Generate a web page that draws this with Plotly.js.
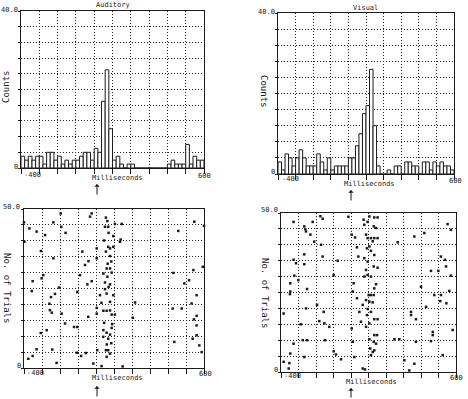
<!DOCTYPE html>
<html>
<head>
<meta charset="utf-8">
<script src="https://cdn.plot.ly/plotly-3.0.1.min.js"></script>
<style>html,body{margin:0;padding:0;background:#fff;}#chart{width:468px;height:399px;}</style>
</head>
<body>
<div id="chart"></div>
<script>
// ---------- DATA ----------
const binStartMs = -400;
const binWidthMs = 20;
// Auditory PSTH counts, 50 bins of 20 ms from -400 to 600 ms
const auditoryCounts = [3,2,3,2,3,3,1,4,4,2, 3,1,2,1,2,2,3,4,4,2, 5,4,17,25,10,2,3,1,0,1, 1,0,0,0,0,0,0,0,0,0, 1,2,1,1,1,6,1,3,2,2];
// Visual PSTH counts
const visualCounts = [3,1,5,4,2,4,6,4,2,2, 2,5,3,1,4,1,2,2,2,2, 4,4,7,10,15,17,26,12,2,0, 0,1,0,2,2,0,3,3,2,2, 0,3,3,1,3,2,3,2,2,1];

// Auditory raster: spike time (ms) and trial number
const audSpikeMs = [-24,-33,55,63,50,68,105,143,-196,-237,-400,-370,-330,-283,-169,-193,-398,96,133,137,4,68,78,96,-306,-76,55,78,4,-237,-61,-42,-89,59,78,-293,-302,-352,41,87,63,-48,-24,50,78,-357,-206,-228,-250,-104,22,59,96,78,-259,-256,-246,-191,4,4,41,59,78,87,105,-43,-172,-122,-104,-274,-307,41,59,78,87,68,-330,-243,-107,-83,7,55,68,59,78,-376,-352,-219,-15,31,148,-56,204,217,546,457,600,593,541,430,517,491,559,531,426,476,559,544,559,537,559,435,574,587,70,45,85,65,50,70,45,90,60,85,40,30];
const audTrial = [48.6,47.6,47.3,46.2,44.4,44.4,45.3,45.3,48.6,45.8,45.8,43.9,42.9,41.8,42.5,44.4,39.7,41.5,39.7,40.4,37.6,38.1,37.6,38.1,36.8,36.6,36.6,35.2,34.5,34.5,32.4,33.6,29.2,31.3,31.3,29.2,28.2,27.3,29.7,30.0,28.7,26.3,27.3,26.9,26.3,24.2,25.3,23.3,22.3,23.9,22.9,23.4,22.9,20.8,20.2,18.2,17.4,17.1,18.9,17.1,18.0,18.0,18.1,16.8,16.8,16.1,14.0,12.9,12.9,11.9,11.0,11.9,11.1,10.5,12.6,9.2,5.9,5.8,4.8,3.8,5.6,5.6,5.6,3.5,4.5,2.9,3.8,1.6,1.4,0.6,0.5,4.7,15.8,20.6,46.0,43.1,44.7,31.8,30.8,29.9,27.6,26.6,22.9,20.3,18.7,18.7,16.4,15.3,13.4,9.2,10.3,8.2,7.1,5.0,42.5,40.1,33.5,32.8,24.8,25.5,14.2,13.8,7.4,7.8,9.8,20.5];

// Visual raster
const visSpikeMs = [-328,-267,-261,-257,-232,-219,-175,-162,-210,-171,-267,-162,-328,-314,-267,-76,-324,-301,-347,-251,-347,-349,-99,-385,-257,-194,-156,-181,-286,-152,-124,-328,-276,-251,-149,-99,-86,-57,-267,-347,-352,-356,-385,-15,4,23,34,42,15,10,34,48,57,4,10,19,67,80,72,76,95,105,133,152,130,143,86,95,114,124,133,152,91,105,114,133,76,95,130,152,86,95,76,114,143,133,101,114,130,86,105,124,67,95,114,91,133,152,105,86,133,149,105,130,143,110,124,133,114,362,419,267,552,571,514,537,543,457,499,571,400,476,514,562,429,510,545,343,343,371,581,467,467,248,276,371,524,305,362,333,457];
const visTrial = [47.2,45.8,44.9,44.2,43.2,47.2,49.0,48.2,41.0,40.0,37.0,36.3,35.3,34.2,33.9,35.0,30.3,28.9,27.9,26.1,25.3,24.5,30.5,18.4,20.0,21.1,18.9,16.0,15.0,15.3,14.2,8.9,10.0,10.0,10.0,6.5,5.5,4.0,4.7,5.8,2.8,1.1,3.2,48.8,43.2,42.3,39.2,36.3,27.9,25.3,23.2,18.9,15.8,13.7,9.5,4.7,1.1,0.8,47.9,46.3,47.2,48.9,48.6,48.6,45.8,45.3,43.2,42.1,42.1,41.1,42.1,42.1,38.9,39.5,38.1,36.8,35.8,34.7,33.2,32.8,32.1,30.5,30.0,30.0,27.6,26.3,24.2,24.2,24.2,22.6,22.1,21.9,21.1,19.8,18.9,17.9,16.6,16.6,15.3,14.2,11.6,11.6,10.3,9.5,8.9,7.4,6.3,6.8,5.3,42.6,43.7,40.8,46.5,44.7,36.3,35.3,33.2,31.8,31.8,30.3,26.8,24.2,24.2,25.5,20.5,22.3,21.6,18.9,17.9,16.6,13.2,12.6,11.6,10.3,10.3,9.5,5.3,3.7,2.6,0.5,9.7];

const xTickVals = [-400,-300,-200,-100,0,100,200,300,400,500,600];

// ---------- HELPERS ----------
const W = 468, H = 399;
const fx = p => p / W;
const fy = p => 1 - p / H;
const MONO = 'DejaVu Sans Mono, Liberation Mono, monospace';
const INK = '#1a1a1a';
const GRID_DASH = '1px,2px';
const binCenters = auditoryCounts.map((_, i) => binStartMs + binWidthMs * (i + 0.5));

function xAxis(l, r, anchor) {
  return {
    domain: [fx(l), fx(r)], range: [-400, 600], anchor: anchor,
    showline: true, mirror: true, linecolor: INK, linewidth: 1,
    showgrid: true, gridcolor: '#222', griddash: GRID_DASH, gridwidth: 1,
    zeroline: false, ticks: 'outside', ticklen: 5, tickcolor: INK, tickwidth: 1,
    tickmode: 'array', tickvals: xTickVals, showticklabels: false, fixedrange: true
  };
}
function yAxis(t, b, anchor, maxV) {
  const vals = [];
  for (let i = 0; i <= 10; i++) vals.push(maxV * i / 10);
  return {
    domain: [fy(b), fy(t)], range: [0, maxV], anchor: anchor,
    showline: true, mirror: true, linecolor: INK, linewidth: 1,
    showgrid: true, gridcolor: '#222', griddash: GRID_DASH, gridwidth: 1,
    zeroline: false, ticks: 'outside', ticklen: 2, tickcolor: INK,
    tickmode: 'array', tickvals: vals, showticklabels: false, fixedrange: true
  };
}

const barStyle = {color: 'white', line: {color: INK, width: 1}};
const dotStyle = {symbol: 'square', size: 2.5, color: INK};

const data = [
  {type: 'bar', x: binCenters, y: auditoryCounts, width: binWidthMs, marker: barStyle, xaxis: 'x', yaxis: 'y'},
  {type: 'bar', x: binCenters, y: visualCounts, width: binWidthMs, marker: barStyle, xaxis: 'x2', yaxis: 'y2'},
  {type: 'scatter', mode: 'markers', x: audSpikeMs, y: audTrial, marker: dotStyle, xaxis: 'x3', yaxis: 'y3', cliponaxis: false},
  {type: 'scatter', mode: 'markers', x: visSpikeMs, y: visTrial, marker: dotStyle, xaxis: 'x4', yaxis: 'y4', cliponaxis: false}
];

function txt(x, y, text, opts) {
  const o = opts || {};
  return Object.assign({xref: 'paper', yref: 'paper', x: fx(x), y: fy(y), text: text, showarrow: false,
    xanchor: 'center', yanchor: 'middle', font: {family: MONO, size: o.size || 7, color: INK}}, o);
}
function arrow(x, yHead, len) {
  return {xref: 'paper', yref: 'paper', x: fx(x), y: fy(yHead), text: '', showarrow: true,
    ax: 0, ay: len, arrowhead: 1, arrowsize: 0.9, arrowwidth: 1, arrowcolor: INK};
}
const big = {family: MONO, size: 9, color: INK};

const annotations = [
  txt(113, 5, 'Auditory'),
  txt(365, 8, 'Visual'),
  txt(6, 87, 'Counts', {textangle: -90, font: big}),
  txt(264, 91, 'Counts', {textangle: 90, font: big}),
  txt(7, 288, 'No. of Trials', {textangle: 90, font: big}),
  txt(265, 293, 'No. of Trials', {textangle: 90, font: big}),
  // y end labels
  txt(20, 10, '40.0', {xanchor: 'right'}),
  txt(20, 167, '0', {xanchor: 'right'}),
  txt(277, 12, '40.0', {xanchor: 'right'}),
  txt(277, 172, '0', {xanchor: 'right'}),
  txt(22, 207, '50.0', {xanchor: 'right'}),
  txt(23, 366, '0', {xanchor: 'right'}),
  txt(280, 210, '50.0', {xanchor: 'right'}),
  txt(280, 370, '0', {xanchor: 'right'}),
  // x end labels
  txt(22, 175, '-400', {xanchor: 'left'}),
  txt(204, 176, '600'),
  txt(280, 179, '-400', {xanchor: 'left'}),
  txt(455, 181, '600'),
  txt(25, 373, '-400', {xanchor: 'left'}),
  txt(205, 374, '600'),
  txt(282, 376, '-400', {xanchor: 'left'}),
  txt(456, 378, '600'),
  // Milliseconds
  txt(90, 178, 'Milliseconds', {xanchor: 'left'}),
  txt(342, 184, 'Milliseconds', {xanchor: 'left'}),
  txt(90, 378, 'Milliseconds', {xanchor: 'left'}),
  txt(344, 382, 'Milliseconds', {xanchor: 'left'}),
  // arrows marking stimulus onset
  arrow(97, 184, 12),
  arrow(351, 190, 12),
  arrow(97, 386, 12),
  arrow(351, 388, 11)
];

const layout = {
  width: W, height: H,
  margin: {l: 0, r: 0, t: 0, b: 0},
  paper_bgcolor: 'white', plot_bgcolor: 'white',
  showlegend: false, barmode: 'overlay',
  font: {family: MONO, size: 7, color: INK},
  xaxis: xAxis(21, 204, 'y'),
  yaxis: yAxis(11, 168, 'x', 40),
  xaxis2: xAxis(278, 454, 'y2'),
  yaxis2: yAxis(13, 174, 'x2', 40),
  xaxis3: xAxis(24, 204, 'y3'),
  yaxis3: yAxis(209, 368, 'x3', 50),
  xaxis4: xAxis(281, 456, 'y4'),
  yaxis4: yAxis(213, 372, 'x4', 50),
  annotations: annotations
};

Plotly.newPlot('chart', data, layout, {staticPlot: true, displayModeBar: false});
</script>
</body>
</html>
